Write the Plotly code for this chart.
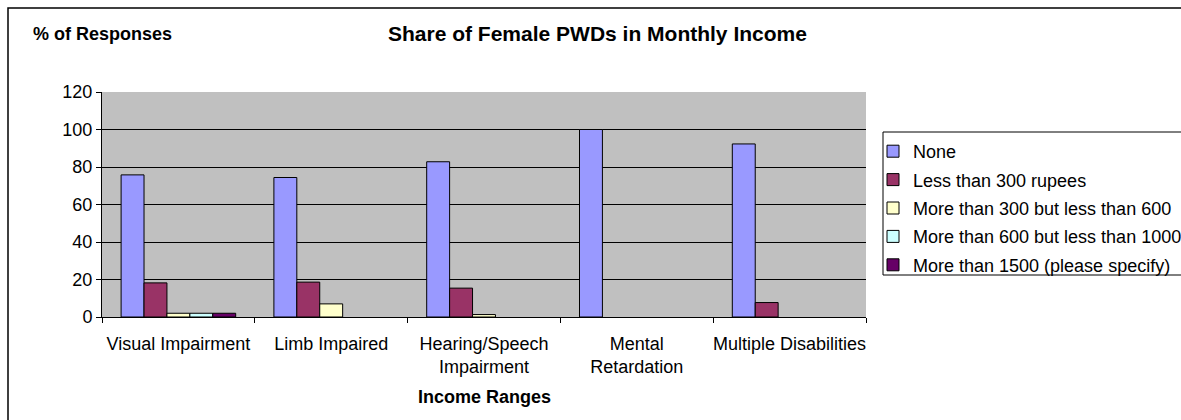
import plotly.graph_objects as go

categories = ["Visual Impairment", "Limb Impaired", "Hearing/Speech<br>Impairment",
              "Mental<br>Retardation", "Multiple Disabilities"]

series_names = ["None", "Less than 300 rupees", "More than 300 but less than 600",
                "More than 600 but less than 1000", "More than 1500 (please specify)"]

none_vals     = [75.8, 74.4, 82.8, 100.0, 92.3]
lt300_vals    = [18.2, 18.6, 15.4, None, 7.7]
r300_600_vals = [2.0, 7.0, 1.3, None, None]
r600_1000     = [2.0, None, None, None, None]
gt1500_vals   = [2.0, None, None, None, None]

values = [none_vals, lt300_vals, r300_600_vals, r600_1000, gt1500_vals]
colors = ["#9999FF", "#993366", "#FFFFCC", "#CCFFFF", "#660066"]

W, H = 1181, 420
L, R, T, B = 102, 866, 92, 317
pw, ph = R - L, B - T

def px(x):
    return (x - L) / pw

def py(y):
    return (B - y) / ph

fig = go.Figure()
for name, vals, col in zip(series_names, values, colors):
    fig.add_trace(go.Bar(x=categories, y=vals, name=name, legendgroup=name,
                         marker=dict(color=col, line=dict(color="black", width=1))))

font = "Arial, Liberation Sans, sans-serif"
fig.update_layout(
    width=W, height=H,
    margin=dict(l=L, r=W - R, t=T, b=H - B, autoexpand=False),
    paper_bgcolor="white", plot_bgcolor="#C0C0C0",
    barmode="group", bargap=0.25, bargroupgap=0,
    font=dict(family=font, size=18, color="black"),
    showlegend=True,
    legend=dict(x=px(873), y=py(133), xanchor="left", yanchor="top",
                borderwidth=0, bgcolor="rgba(0,0,0,0)",
                font=dict(size=18), traceorder="grouped", tracegroupgap=2,
                itemclick=False),
)
fig.update_xaxes(showline=True, linecolor="black", linewidth=1, automargin=False,
                 ticks="outside", ticklen=5, tickcolor="black", tickson="boundaries",
                 tickangle=0, ticklabelstandoff=10, tickfont=dict(size=18), showgrid=False)
fig.update_yaxes(range=[0, 120], dtick=20, showline=True, linecolor="black", linewidth=1,
                 automargin=False, ticks="outside", ticklen=5, tickcolor="black",
                 showgrid=True, gridcolor="black", gridwidth=1, zeroline=False,
                 tickfont=dict(size=18))

fig.add_annotation(text="<b>Share of Female PWDs in Monthly Income</b>", xref="paper", yref="paper",
                   x=px(597), y=py(34), yanchor="middle", showarrow=False, font=dict(size=21))
fig.add_annotation(text="<b>% of Responses</b>", xref="paper", yref="paper",
                   x=px(31), y=py(34), xanchor="left", yanchor="middle", showarrow=False,
                   font=dict(size=18))
fig.add_annotation(text="<b>Income Ranges</b>", xref="paper", yref="paper",
                   x=px(484), y=py(397), yanchor="middle", showarrow=False, font=dict(size=18))

# legend frame and outer chart frame
fig.add_shape(type="rect", xref="paper", yref="paper", x0=px(883), y0=py(275), x1=px(1200), y1=py(132),
              line=dict(color="black", width=1), fillcolor="white", layer="below")
fig.add_shape(type="rect", xref="paper", yref="paper", x0=px(8), y0=py(430), x1=px(1200), y1=py(8),
              line=dict(color="black", width=1.5), layer="below")

fig.write_html("out.html", config={"displayModeBar": False},
               post_script="document.body.style.margin='0';")
